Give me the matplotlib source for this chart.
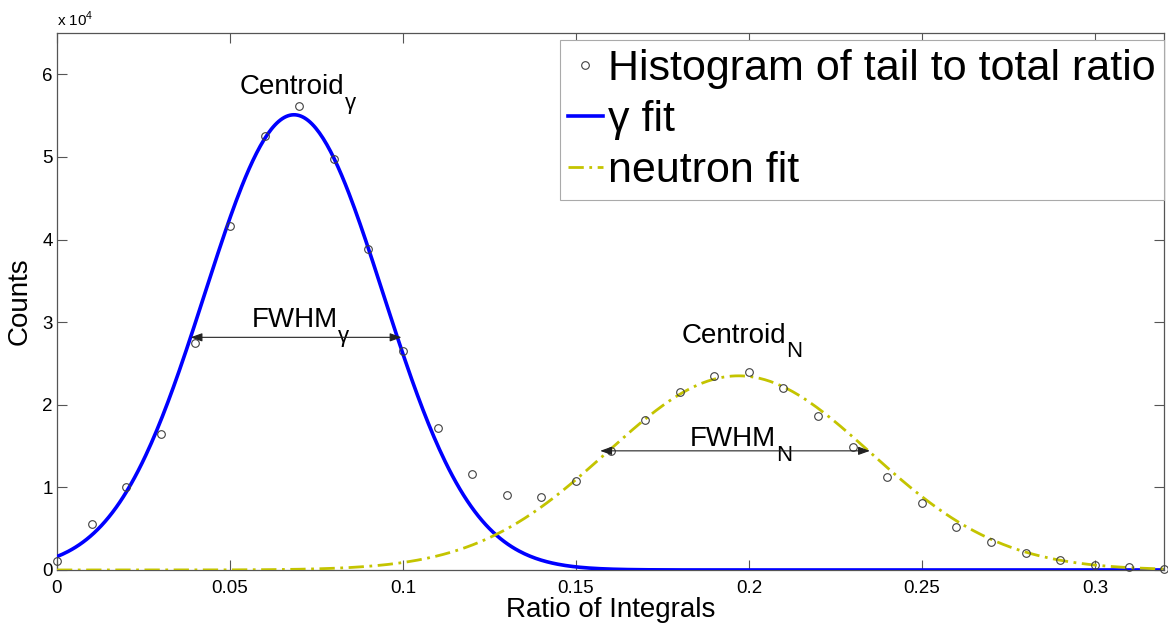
import numpy as np
import matplotlib
matplotlib.use('Agg')
import matplotlib.pyplot as plt

plt.rcParams['font.family'] = ['Liberation Sans', 'DejaVu Sans']

# histogram of tail-to-total ratio (bin centres and counts)
ratio_bins = [0.00, 0.01, 0.02, 0.03, 0.04, 0.05, 0.06, 0.07, 0.08, 0.09, 0.10,
              0.11, 0.12, 0.13, 0.14, 0.15, 0.16, 0.17, 0.18, 0.19, 0.20, 0.21,
              0.22, 0.23, 0.24, 0.25, 0.26, 0.27, 0.28, 0.29, 0.30, 0.31, 0.32]
counts = [1100, 5600, 10000, 16500, 27500, 41600, 52500, 56200, 49800, 38800, 26500,
          17200, 11600, 9100, 8800, 10800, 14400, 18100, 21600, 23500, 24000, 22000,
          18600, 14900, 11200, 8100, 5200, 3400, 2100, 1200, 600, 400, 150]

# gaussian fit parameters: amplitude, centroid, sigma
gamma_fit = (55100, 0.0685, 0.0258)
neutron_fit = (23500, 0.197, 0.038)

# FWHM arrows: x start, x end, height
fwhm_gamma = (0.0386, 0.0996, 28160)
fwhm_neutron = (0.157, 0.235, 14420)

xtick_vals = [0, 0.05, 0.1, 0.15, 0.2, 0.25, 0.3]
xtick_labels = ['0', '0.05', '0.1', '0.15', '0.2', '0.25', '0.3']
ytick_vals = [0, 10000, 20000, 30000, 40000, 50000, 60000]
ytick_labels = ['0', '1', '2', '3', '4', '5', '6']


def gauss(x, p):
    a, mu, s = p
    return a * np.exp(-(x - mu) ** 2 / (2 * s ** 2))


fig = plt.figure(figsize=(11.68, 6.26), dpi=100)
ax = fig.add_axes([0.0488, 0.0895, 0.9478, 0.8578])

xs = np.linspace(0, 0.32, 600)
ax.plot(ratio_bins, counts, 'o', ms=5.5, mfc='none', mec='#404040', mew=0.8,
        clip_on=False, zorder=4, label='Histogram of tail to total ratio')
ax.plot(xs, gauss(xs, gamma_fit), color='#0000ff', lw=2.6, label='\u03b3 fit', zorder=3)
ax.plot(xs, gauss(xs, neutron_fit), color='#c4c400', lw=2.0, dashes=(5.5, 2, 1, 2),
        label='neutron fit', zorder=3)

ax.set_xlim(0, 0.32)
ax.set_ylim(0, 65000)
ax.set_xticks(xtick_vals)
ax.set_xticklabels(xtick_labels)
ax.set_yticks(ytick_vals)
ax.set_yticklabels(ytick_labels)
ax.tick_params(direction='in', length=7, width=0.8, color='#555555',
               labelsize=13.5, top=True, right=True)
ax.tick_params(axis='x', pad=7)
ax.tick_params(axis='y', pad=3)
for sp in ax.spines.values():
    sp.set_color('#555555')
    sp.set_linewidth(0.9)

ax.set_xlabel('Ratio of Integrals', fontsize=20, labelpad=0)
ax.set_ylabel('Counts', fontsize=20)
ax.yaxis.set_label_coords(-0.0217, 0.5)
ax.text(0, 1.008, r'x 10$^{\mathregular{4}}$', transform=ax.transAxes, fontsize=11,
        va='bottom', ha='left')

leg = ax.legend(loc='upper right', bbox_to_anchor=(1.0, 0.987), borderaxespad=0,
                fontsize=31, fancybox=False, framealpha=1, edgecolor='#aaaaaa',
                handlelength=0.8, handletextpad=0.12, labelspacing=0.265,
                borderpad=0.2)
leg.get_frame().set_linewidth(0.8)


def label_with_sub(x, y, main, sub, size=20, sub_size=16, drop=10.5):
    t = ax.text(x, y, main, fontsize=size, va='baseline', ha='left')
    fig.canvas.draw()
    w = t.get_window_extent().width * 72 / fig.dpi
    ax.annotate(sub, xy=(x, y), xytext=(w, -drop), textcoords='offset points',
                fontsize=sub_size, va='baseline', ha='left')


def fwhm_arrow(f):
    x0, x1, y = f
    ax.annotate('', xy=(x0, y), xytext=(x1, y),
                arrowprops=dict(arrowstyle='<|-|>,head_length=0.7,head_width=0.25',
                                color='#222222', lw=0.8, shrinkA=0, shrinkB=0),
                zorder=5)


fwhm_arrow(fwhm_gamma)
fwhm_arrow(fwhm_neutron)
label_with_sub(0.0529, 57600, 'Centroid', '\u03b3')
label_with_sub(0.1806, 27500, 'Centroid', 'N')
label_with_sub(0.0563, 29400, 'FWHM', '\u03b3')
label_with_sub(0.183, 15000, 'FWHM', 'N')

fig.savefig('out.png', dpi=100)
